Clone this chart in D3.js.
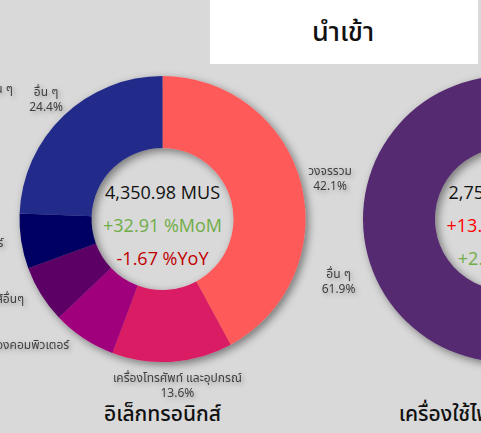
<!DOCTYPE html>
<html>
<head>
<meta charset="utf-8">
<script src="https://cdn.jsdelivr.net/npm/d3@7"></script>
<style>
  html, body { margin: 0; padding: 0; background: #d9d9d9; overflow: hidden; }
  svg { display: block; }
</style>
</head>
<body>
<svg id="chart"></svg>
<script>
// import donuts, share of each product group (%)
const elecCats = ["วงจรรวม", "เครื่องโทรศัพท์ และอุปกรณ์", "ส่วนประกอบและอุปกรณ์เครื่องคอมพิวเตอร์", "ชิ้นส่วนอิเล็กทรอนิกส์อื่นๆ", "เซมิคอนดักเตอร์", "อื่น ๆ"];
const elecShare = [42.1, 13.6, 7.2, 6.5, 6.2, 24.4];
const elecColors = ["#ff5a5a", "#d91a64", "#a1007c", "#5d0066", "#000062", "#232a8a"];
const elecCenter = ["4,350.98 MUS", "+32.91 %MoM", "-1.67 %YoY"];

const applCats = ["เครื่องปรับอากาศ", "อื่น ๆ"];
const applShare = [38.1, 61.9];
const applColors = ["#ff5a5a", "#552c70"];
const applCenter = ["2,755.40 MUS", "+13.28 %MoM", "+2.14 %YoY"];

const W = 481, H = 433;
const thai = "'Noto Sans Thai', 'Leelawadee UI', Tahoma, 'Noto Sans', sans-serif";
const latin = "'Open Sans', 'Noto Sans', sans-serif";

const svg = d3.select("#chart").attr("width", W).attr("height", H);

// shadows, like the office chart styles
const defs = svg.append("defs");
defs.append("filter").attr("id", "ringShadow")
    .attr("x", "-20%").attr("y", "-20%").attr("width", "140%").attr("height", "140%")
  .append("feDropShadow")
    .attr("dx", 3).attr("dy", 3).attr("stdDeviation", 4.5)
    .attr("flood-color", "#000").attr("flood-opacity", 0.45);
defs.append("filter").attr("id", "textShadow")
    .attr("x", "-30%").attr("y", "-50%").attr("width", "160%").attr("height", "200%")
  .append("feDropShadow")
    .attr("dx", 2).attr("dy", 2).attr("stdDeviation", 2.5)
    .attr("flood-color", "#000").attr("flood-opacity", 0.3);

// header box
svg.append("rect").attr("x", 210).attr("y", 0).attr("width", 268).attr("height", 64).attr("fill", "#fff");
svg.append("text").attr("x", 343).attr("y", 41)
    .attr("text-anchor", "middle").attr("font-family", thai).attr("font-size", 27)
    .attr("font-weight", 500).attr("fill", "#111").text("นำเข้า");

// fragment of the neighbouring panel's label
svg.append("text").attr("x", 13).attr("y", 93).attr("text-anchor", "end")
    .attr("font-family", thai).attr("font-size", 12).attr("fill", "#404040")
    .attr("filter", "url(#textShadow)").text("อื่น ๆ");

const R = 143, r = 71;

function donut(cx, cy, cats, share, colors, centerText, centerColors, title) {
  const data = cats.map((c, i) => ({cat: c, v: share[i], color: colors[i]}));
  const pie = d3.pie().value(d => d.v).sort(null);
  const arc = d3.arc().innerRadius(r).outerRadius(R);
  const arcs = pie(data);

  const g = svg.append("g").attr("transform", `translate(${cx},${cy})`);

  g.append("g").attr("filter", "url(#ringShadow)")
    .selectAll("path").data(arcs).join("path")
      .attr("d", arc).attr("fill", d => d.data.color);

  // outside-end data labels
  const lab = g.append("g").attr("filter", "url(#textShadow)")
      .attr("font-family", thai).attr("font-size", 12).attr("fill", "#404040");
  arcs.forEach(d => {
    const a = (d.startAngle + d.endAngle) / 2;
    const sx = Math.sin(a), sy = -Math.cos(a);
    const px = sx * (R + 8), py = sy * (R + 8);
    const t = lab.append("text").attr("text-anchor", "middle");
    const l1 = t.append("tspan").text(d.data.cat);
    const l2 = t.append("tspan").text(d.data.v.toFixed(1) + "%");
    const w = Math.max(l1.node().getComputedTextLength(), l2.node().getComputedTextLength());
    let bx, by;
    if (sx < -0.5 && sy > 0) {
      // lower left: block's right edge sits by the ring
      bx = px - 10 - w / 2;
      by = py + 7;
    } else {
      bx = px + sx * w / 2;
      by = py + sy * 15;
    }
    l1.attr("x", bx).attr("y", by - 3);
    l2.attr("x", bx).attr("y", by + 12);
  });

  // centre figures
  g.selectAll("text.center").data(centerText).join("text")
      .attr("class", "center")
      .attr("x", 0).attr("y", (d, i) => -20 + i * 33)
      .attr("text-anchor", "middle")
      .attr("font-family", latin).attr("font-size", 18)
      .attr("fill", (d, i) => centerColors[i])
      .text(d => d);

  g.append("text").attr("x", 0).attr("y", 202)
      .attr("text-anchor", "middle").attr("font-family", thai).attr("font-size", 21)
      .attr("font-weight", 500).attr("fill", "#111").text(title);
}

donut(162.5, 219, elecCats, elecShare, elecColors, elecCenter,
      ["#111", "#70ad47", "#c00000"], "อิเล็กทรอนิกส์");
donut(506, 219, applCats, applShare, applColors, applCenter,
      ["#111", "#ff0000", "#70ad47"], "เครื่องใช้ไฟฟ้าและอุปกรณ์");
</script>
</body>
</html>
